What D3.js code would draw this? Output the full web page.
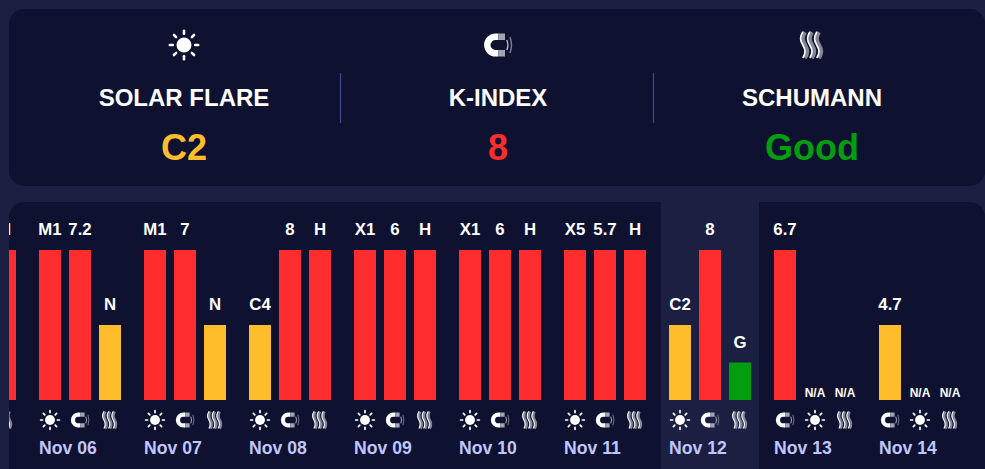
<!DOCTYPE html>
<html>
<head>
<meta charset="utf-8">
<script src="https://cdn.jsdelivr.net/npm/d3@7/dist/d3.min.js"></script>
<style>
  html, body { margin: 0; padding: 0; background: #1b1f42; overflow: hidden; }
  svg { display: block; }
  text { font-family: "Liberation Sans", Arial, sans-serif; font-weight: 700; }
</style>
</head>
<body>
<div id="chart"></div>
<script>
// summary row
const summaryTitles = ['SOLAR FLARE', 'K-INDEX', 'SCHUMANN'];
const summaryValues = ['C2', '8', 'Good'];
const summaryIcons = ['sun', 'magnet', 'waves'];
const summaryLevels = [2, 4, 1];

// forecast
const days = ['Nov 05', 'Nov 06', 'Nov 07', 'Nov 08', 'Nov 09', 'Nov 10', 'Nov 11', 'Nov 12', 'Nov 13', 'Nov 14'];
const flareLabels = [null, 'M1', 'M1', 'C4', 'X1', 'X1', 'X5', 'C2', 'N/A', 'N/A'];
const flareLevels = [null, 4, 4, 2, 4, 4, 4, 2, 0, 0];
const kLabels = [null, '7.2', '7', '8', '6', '6', '5.7', '8', '6.7', '4.7'];
const kLevels = [null, 4, 4, 4, 4, 4, 4, 4, 4, 2];
const schumannLabels = ['H', 'N', 'N', 'H', 'H', 'H', 'H', 'G', 'N/A', 'N/A'];
const schumannLevels = [4, 2, 2, 4, 4, 4, 4, 1, 0, 0];
const today = 'Nov 12';
const kFirstDays = ['Nov 13', 'Nov 14'];

const width = 985, height = 469;
const cardColor = '#0e1230', bgColor = '#1b1f42';
const levelColor = d3.scaleOrdinal().domain([1, 2, 4]).range(['#049d10', '#ffbc2b', '#ff2d2d']);

const svg = d3.select('#chart').append('svg').attr('width', width).attr('height', height);
const defs = svg.append('defs');

defs.append('clipPath').attr('id', 'card-clip')
  .append('rect').attr('x', 9).attr('y', 202).attr('width', 976).attr('height', 300).attr('rx', 15);

function drawIcon(g, type) {
  if (type === 'sun') {
    g.append('circle').attr('r', 7.5).attr('fill', '#fff');
    d3.range(8).forEach(function (i) {
      const a = i * Math.PI / 4;
      g.append('line')
        .attr('x1', Math.cos(a) * 11.2).attr('y1', Math.sin(a) * 11.2)
        .attr('x2', Math.cos(a) * 14.2).attr('y2', Math.sin(a) * 14.2)
        .attr('stroke', '#fff').attr('stroke-width', 2.6).attr('stroke-linecap', 'round');
    });
  } else if (type === 'magnet') {
    g.append('path').attr('d', 'M0.3,-8.3 H-2.4 A8.3,8.3 0 0 0 -2.4,8.3 H0.3')
      .attr('fill', 'none').attr('stroke', '#fff').attr('stroke-width', 6.4);
    g.append('path').attr('d', 'M0.3,-8.3 H7 M0.3,8.3 H7')
      .attr('fill', 'none').attr('stroke', '#a3a4b3').attr('stroke-width', 6.4);
    g.append('path').attr('d', 'M8.8,-5 Q11,0 8.8,5')
      .attr('fill', 'none').attr('stroke', '#b9bac6').attr('stroke-width', 1.4);
    g.append('path').attr('d', 'M12,-8 Q15,0 12,8')
      .attr('fill', 'none').attr('stroke', '#7e8094').attr('stroke-width', 1.4);
  } else {
    [-8, -1, 6].forEach(function (dx) {
      const d = 'M0,-13 C-3,-8 -3,-5 0,0 C3,5 3,8 0,13';
      g.append('path').attr('d', d).attr('transform', 'translate(' + (dx + 0.7) + ',0)')
        .attr('fill', 'none').attr('stroke', '#83859a').attr('stroke-width', 4.6);
      g.append('path').attr('d', d).attr('transform', 'translate(' + (dx - 1.2) + ',0)')
        .attr('fill', 'none').attr('stroke', '#fff').attr('stroke-width', 1.6);
    });
  }
}

// top card
svg.append('rect').attr('x', 9).attr('y', 9).attr('width', 976).attr('height', 177).attr('rx', 15).attr('fill', cardColor);

const summaryX = d3.scalePoint().domain(summaryTitles).range([184, 812]);
summaryTitles.forEach(function (t, i) {
  const cx = i === 1 ? 498 : summaryX(t);
  const icon = svg.append('g').attr('transform', 'translate(' + cx + ',45)');
  drawIcon(icon, summaryIcons[i]);
  svg.append('text').attr('x', cx).attr('y', 106).attr('text-anchor', 'middle')
    .attr('font-size', 24).attr('fill', '#fff').text(t);
  svg.append('text').attr('x', cx).attr('y', 160).attr('text-anchor', 'middle')
    .attr('font-size', 36).attr('fill', levelColor(summaryLevels[i])).text(summaryValues[i]);
});

svg.selectAll('.divider').data([340.5, 653.5]).join('line').attr('class', 'divider')
  .attr('x1', d => d).attr('x2', d => d).attr('y1', 73).attr('y2', 123)
  .attr('stroke', '#414a8c').attr('stroke-width', 1.2);

// bottom card
const card = svg.append('g').attr('clip-path', 'url(#card-clip)');
card.append('rect').attr('x', 9).attr('y', 202).attr('width', 976).attr('height', 300).attr('fill', cardColor);

const x0 = d3.scaleBand().domain(days).range([-66, 984]);
const x1 = d3.scaleBand().domain([0, 1, 2]).range([0, 82]).paddingInner(8 / 30);
const y = d3.scaleLinear().domain([0, 4]).range([400, 250]);

card.append('rect').attr('x', x0(today) - 8).attr('y', 202).attr('width', 98).attr('height', 300).attr('fill', bgColor);

const rows = [];
days.forEach(function (day, i) {
  const order = kFirstDays.includes(day) ? ['magnet', 'sun', 'waves'] : ['sun', 'magnet', 'waves'];
  const byType = {
    sun: { label: flareLabels[i], level: flareLevels[i] },
    magnet: { label: kLabels[i], level: kLevels[i] },
    waves: { label: schumannLabels[i], level: schumannLevels[i] }
  };
  order.forEach(function (type, slot) {
    if (byType[type].level === null) return;
    rows.push({ day: day, slot: slot, type: type, label: byType[type].label, level: byType[type].level });
  });
});

const center = d => x0(d.day) + x1(d.slot) + x1.bandwidth() / 2;

card.selectAll('.bar').data(rows.filter(d => d.level > 0)).join('rect').attr('class', 'bar')
  .attr('x', d => x0(d.day) + x1(d.slot))
  .attr('y', d => y(d.level))
  .attr('width', x1.bandwidth())
  .attr('height', d => y(0) - y(d.level))
  .attr('fill', d => levelColor(d.level));

card.selectAll('.bar-label').data(rows).join('text').attr('class', 'bar-label')
  .attr('x', center)
  .attr('y', d => d.level > 0 ? y(d.level) - 15 : y(0) - 3)
  .attr('text-anchor', 'middle')
  .attr('font-size', d => d.level > 0 ? 16.8 : 12)
  .attr('fill', '#fff')
  .text(d => d.label);

card.selectAll('.bar-icon').data(rows).join('g').attr('class', 'bar-icon')
  .attr('transform', d => 'translate(' + center(d) + ',420) scale(0.66)')
  .each(function (d) { drawIcon(d3.select(this), d.type); });

// the first day has scrolled off, its label is not on screen
card.selectAll('.day-label').data(days.filter(d => x0(d) >= 0)).join('text').attr('class', 'day-label')
  .attr('x', d => x0(d)).attr('y', 454)
  .attr('font-size', 17.6).attr('fill', '#c0c6ff')
  .text(d => d);
</script>
</body>
</html>
